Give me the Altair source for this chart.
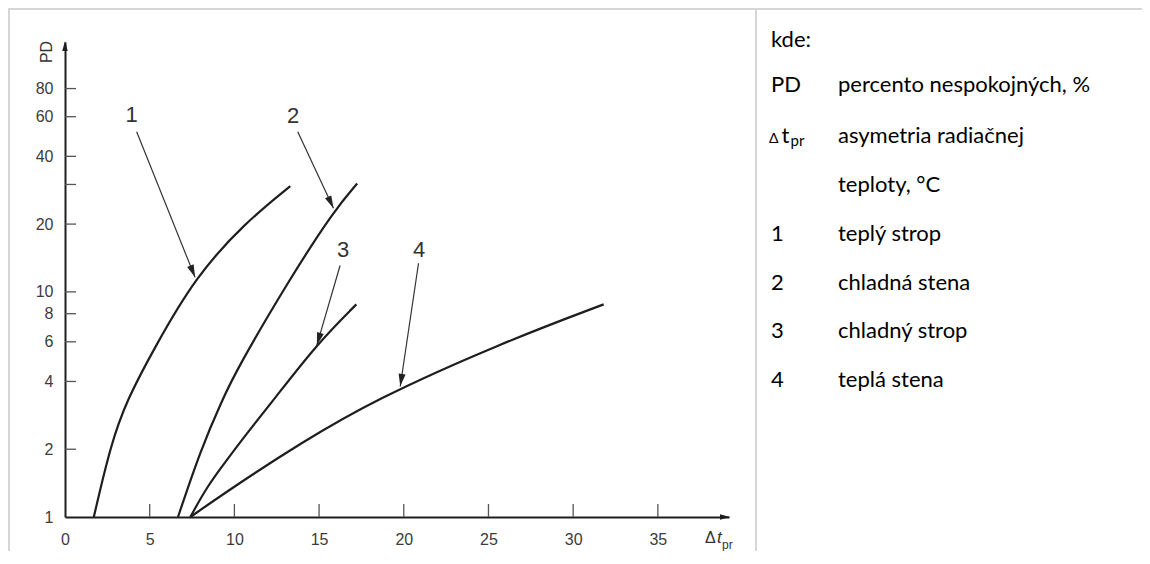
import math
import altair as alt
import pandas as pd

# ---------------- data ----------------
curve_ids = ["1", "2", "3", "4"]
c1_x = [1.7, 2.7, 3.65, 5.2, 7.7, 10.7, 13.3]
c1_y = [1.0, 2.1, 3.3, 5.5, 11.7, 20.5, 29.5]
c2_x = [6.67, 8.0, 9.27, 10.2, 13.1, 15.9, 17.25]
c2_y = [1.0, 1.98, 3.3, 4.6, 10.9, 23.1, 30.3]
c3_x = [7.4, 8.37, 9.55, 10.73, 12.3, 14.9, 17.2]
c3_y = [1.0, 1.36, 1.79, 2.35, 3.3, 5.9, 8.8]
c4_x = [7.4, 9.94, 13.88, 18.2, 25.7, 31.8]
c4_y = [1.0, 1.36, 2.12, 3.3, 5.9, 8.8]

label_x = [3.94, 13.47, 16.42, 20.91]
label_y = [61.0, 60.6, 15.3, 15.3]
ptr_start_x = [4.23, 13.74, 16.24, 20.87]
ptr_start_y = [51.4, 51.4, 13.1, 13.4]
ptr_tip_x = [7.68, 15.85, 14.87, 19.79]
ptr_tip_y = [11.6, 23.5, 5.8, 3.8]

x_label_values = [0, 5, 10, 15, 20, 25, 30, 35]
x_tick_values = [5, 10, 15, 20, 25, 30, 35]
y_label_values = [1, 2, 4, 6, 8, 10, 20, 40, 60, 80]
y_tick_values = [2, 4, 6, 8, 10, 20, 30, 40, 60, 80]

legend_head = "kde:"
legend_keys = ["PD", "", "1", "2", "3", "4"]
legend_desc = ["percento nespokojných,  %", "asymetria radiačnej", "teplý strop",
               "chladná stena", "chladný strop", "teplá stena"]
legend_cont = "teploty, °C"

# ---------------- geometry ----------------
W, H = 664, 475
X_MAX = 39.2
Y_MAX = 128.8
PAD = {"left": 57, "top": 34, "right": 413, "bottom": 34}

xs = alt.Scale(domain=[0, X_MAX], nice=False, zero=False)
ys = alt.Scale(type="log", domain=[1, Y_MAX], nice=False)

AX_FONT = "Liberation Sans, Arial, sans-serif"
LEG_FONT = "Lato, Open Sans, sans-serif"
LEG_SIZE = 22
INK = "#1e1e1e"

base_axis = dict(title=None, ticks=False, grid=False, domainColor=INK, domainWidth=2,
                 labelFont=AX_FONT, labelFontSize=16, labelColor="#3c3c3c",
                 labelFlush=False, labelOverlap=False, format="~g")
X_AX = alt.Axis(values=x_label_values, labelPadding=14, **base_axis)
Y_AX = alt.Axis(values=y_label_values, labelPadding=12, **base_axis)

rows = []
for cid, cx, cy in zip(curve_ids, [c1_x, c2_x, c3_x, c4_x], [c1_y, c2_y, c3_y, c4_y]):
    for a, b in zip(cx, cy):
        rows.append({"curve": cid, "x": a, "y": b})
curves_df = pd.DataFrame(rows)


def to_px(x, y):
    return x / X_MAX * W, H - math.log10(y) / math.log10(Y_MAX) * H


ptr_rows = []
for cid, lx, ly, sx, sy, tx, ty in zip(curve_ids, label_x, label_y, ptr_start_x,
                                       ptr_start_y, ptr_tip_x, ptr_tip_y):
    p0 = to_px(sx, sy)
    p1 = to_px(tx, ty)
    ang = math.degrees(math.atan2(p1[0] - p0[0], -(p1[1] - p0[1]))) % 360
    ptr_rows.append({"curve": cid, "lx": lx, "ly": ly, "sx": sx, "sy": sy,
                     "tx": tx, "ty": ty, "angle": ang})
ptr_df = pd.DataFrame(ptr_rows)

one = pd.DataFrame({"d": [0]})
HEAD = "M0,0L0.55,2L-0.55,2Z"


def X(f):
    return alt.X(f, scale=xs, axis=X_AX)


def Y(f):
    return alt.Y(f, scale=ys, axis=Y_AX)


curves = alt.Chart(curves_df).mark_line(interpolate="basis", strokeWidth=2.2, color=INK).encode(
    x=X("x:Q"), y=Y("y:Q"), detail="curve:N")

ytick_layer = alt.Chart(pd.DataFrame({"v": y_tick_values})).mark_rule(color="#555", strokeWidth=1.3).encode(
    y=Y("v:Q"), x=alt.value(0), x2=alt.value(11))
xtick_layer = alt.Chart(pd.DataFrame({"v": x_tick_values})).mark_rule(color="#555", strokeWidth=1.3).encode(
    x=X("v:Q"), y=alt.value(H), y2=alt.value(H - 13))

ptr_lines = alt.Chart(ptr_df).mark_rule(color="#333", strokeWidth=1.2).encode(
    x=X("sx:Q"), y=Y("sy:Q"), x2="tx:Q", y2="ty:Q")
ptr_heads = alt.Chart(ptr_df).mark_point(shape=HEAD, filled=True, size=160, color="#222", opacity=1).encode(
    x=X("tx:Q"), y=Y("ty:Q"), angle=alt.Angle("angle:Q", scale=None))
ptr_labels = alt.Chart(ptr_df).mark_text(font="Liberation Sans Narrow, Liberation Sans, sans-serif",
                                         fontSize=22, color="#333", align="center", baseline="middle").encode(
    x=X("lx:Q"), y=Y("ly:Q"), text="curve:N")

# axis arrow heads
yarrow = alt.Chart(one).mark_point(shape=HEAD, filled=True, size=100, color=INK, opacity=1).encode(
    x=alt.value(0), y=alt.value(-1), angle=alt.value(0))
xarrow = alt.Chart(one).mark_point(shape=HEAD, filled=True, size=100, color=INK, opacity=1).encode(
    x=alt.value(W + 1), y=alt.value(H), angle=alt.value(90))


def txt(s, x, y, font=AX_FONT, size=16, color="#333", align="left", baseline="alphabetic",
        angle=None, style=None):
    kw = dict(font=font, fontSize=size, color=color, align=align, baseline=baseline, text=s)
    if angle is not None:
        kw["angle"] = angle
    if style is not None:
        kw["fontStyle"] = style
    return alt.Chart(one).mark_text(**kw).encode(x=alt.value(x), y=alt.value(y))


axis_texts = [
    txt("PD", -18, 10, size=16, align="center", baseline="middle", angle=270),
    txt("Δ", 640, 501, size=16),
    txt("t", 652, 501, size=17, style="italic"),
    txt("pr", 657, 507, size=12),
]

# table borders
BORDER = "#d6d6d6"
borders = [
    alt.Chart(one).mark_rule(color=BORDER, strokeWidth=2).encode(
        x=alt.value(-57), x2=alt.value(W + PAD["right"]), y=alt.value(-33)),
    alt.Chart(one).mark_rule(color=BORDER, strokeWidth=2).encode(
        x=alt.value(-56), y=alt.value(-33), y2=alt.value(H + PAD["bottom"])),
    alt.Chart(one).mark_rule(color=BORDER, strokeWidth=2).encode(
        x=alt.value(691), y=alt.value(-33), y2=alt.value(H + PAD["bottom"])),
]

# legend text (right cell)
KX, DX = 706, 773
leg = [txt(legend_head, KX, 4.7, font=LEG_FONT, size=LEG_SIZE, color="#000")]
row_base = [49.7, 101, 198.7, 248, 296.3, 344.7]
for k, d, b in zip(legend_keys, legend_desc, row_base):
    if k:
        leg.append(txt(k, KX, b, font=LEG_FONT, size=LEG_SIZE, color="#000"))
    leg.append(txt(d, DX, b, font=LEG_FONT, size=LEG_SIZE, color="#000"))
leg += [
    txt("Δ", 704, 101, font=LEG_FONT, size=14, color="#000"),
    txt("t", 716.5, 101, font=LEG_FONT, size=LEG_SIZE, color="#000"),
    txt("pr", 725.5, 103.5, font=LEG_FONT, size=15, color="#000"),
    txt(legend_cont, DX, 149.7, font=LEG_FONT, size=LEG_SIZE, color="#000"),
]

chart = alt.layer(
    *borders, curves, ytick_layer, xtick_layer, yarrow, xarrow,
    ptr_lines, ptr_heads, ptr_labels, *axis_texts, *leg
).properties(
    width=W, height=H, padding=PAD,
    autosize=alt.AutoSizeParams(type="none"),
    background="white",
).configure_view(stroke=None)

chart.save("out.html", embed_options={"renderer": "svg", "actions": False})
